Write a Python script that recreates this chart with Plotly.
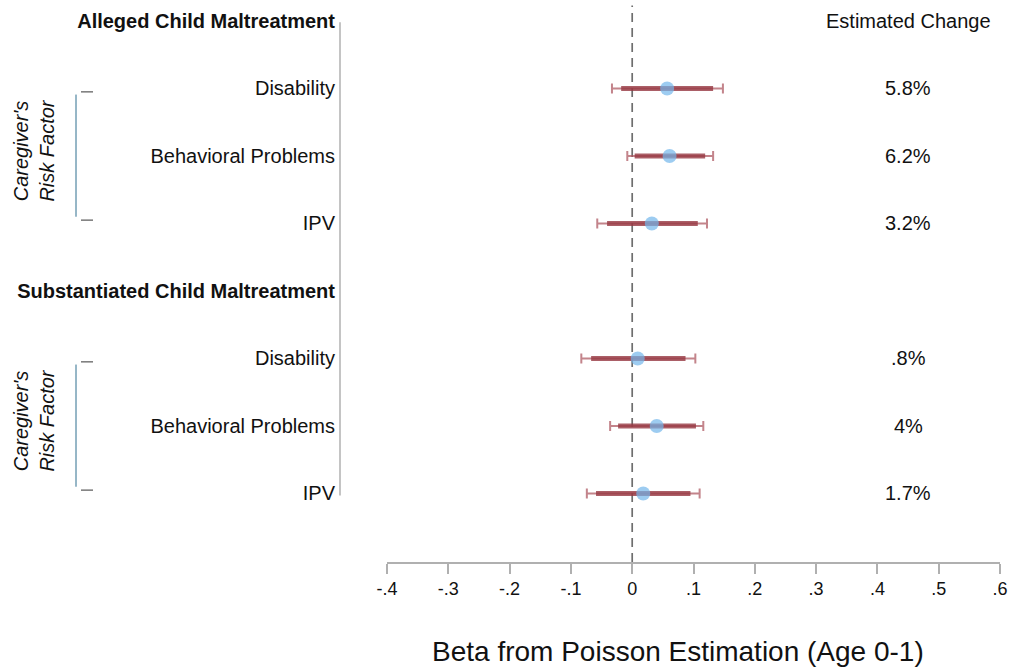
import plotly.graph_objects as go

# ---- data ----
row_labels = ["<b>Alleged Child Maltreatment</b>", "Disability", "Behavioral Problems", "IPV",
              "<b>Substantiated Child Maltreatment</b>", "Disability", "Behavioral Problems", "IPV"]
est_rows = [1, 2, 3, 5, 6, 7]
beta = [0.057, 0.061, 0.032, 0.009, 0.040, 0.018]
lo95 = [-0.033, -0.008, -0.057, -0.083, -0.036, -0.074]
hi95 = [0.148, 0.132, 0.122, 0.103, 0.116, 0.110]
lo90 = [-0.018, 0.004, -0.041, -0.067, -0.023, -0.059]
hi90 = [0.132, 0.119, 0.107, 0.087, 0.104, 0.095]
pct_change = ["5.8%", "6.2%", "3.2%", ".8%", "4%", "1.7%"]
x_tickvals = [-0.4, -0.3, -0.2, -0.1, 0, 0.1, 0.2, 0.3, 0.4, 0.5, 0.6]
x_ticktext = ["-.4", "-.3", "-.2", "-.1", "0", ".1", ".2", ".3", ".4", ".5", ".6"]

FONT = "Liberation Sans, Arial, sans-serif"
W, H = 1012, 667
PW = 1000.0  # paper width in px (margin l=0, r=12)

fig = go.Figure()

# 95% CI thin line with caps
fig.add_trace(go.Scatter(
    x=beta, y=est_rows, mode="markers",
    marker=dict(color="rgba(0,0,0,0)", size=1),
    error_x=dict(type="data", symmetric=False,
                 array=[h - b for h, b in zip(hi95, beta)],
                 arrayminus=[b - l for l, b in zip(lo95, beta)],
                 color="rgba(170,80,90,0.7)", thickness=2, width=5),
    hoverinfo="skip", showlegend=False))
# 90% CI thick bar
fig.add_trace(go.Scatter(
    x=beta, y=est_rows, mode="markers",
    marker=dict(color="rgba(0,0,0,0)", size=1),
    error_x=dict(type="data", symmetric=False,
                 array=[h - b for h, b in zip(hi90, beta)],
                 arrayminus=[b - l for l, b in zip(lo90, beta)],
                 color="rgba(150,55,65,0.8)", thickness=5, width=0),
    hoverinfo="skip", showlegend=False))
# point estimates
fig.add_trace(go.Scatter(
    x=beta, y=est_rows, mode="markers",
    marker=dict(color="rgba(115,182,235,0.7)", size=14, line=dict(width=0)),
    showlegend=False))

shapes = []
# zero dashed line
shapes.append(dict(type="line", xref="x", yref="paper", x0=0, x1=0, y0=0, y1=0.99,
                   line=dict(color="#6e6e6e", width=1.7, dash="9px,6px"), layer="below"))
# left vertical axis line
shapes.append(dict(type="line", xref="paper", yref="y", x0=340 / PW, x1=340 / PW, y0=0.02, y1=7.03,
                   line=dict(color="#b0b0b0", width=1.5)))
# brackets
for r0, r1 in [(1, 3), (5, 7)]:
    shapes.append(dict(type="line", xref="paper", yref="y", x0=76 / PW, x1=76 / PW,
                       y0=r0 + 0.09, y1=r1 - 0.1, line=dict(color="#2f6f8f", width=1)))
    for yy in (r0 + 0.05, r1 - 0.05):
        shapes.append(dict(type="line", xref="paper", yref="y", x0=81 / PW, x1=93 / PW,
                           y0=yy, y1=yy, line=dict(color="#555555", width=1.2)))

annotations = []
annotations.append(dict(x=0.45, y=0, xref="x", yref="y", text="Estimated Change", showarrow=False,
                        font=dict(family=FONT, size=20, color="#111"), xanchor="center", yanchor="middle"))
for r, t in zip(est_rows, pct_change):
    annotations.append(dict(x=0.45, y=r, xref="x", yref="y", text=t, showarrow=False,
                            font=dict(family=FONT, size=20, color="#111"), xanchor="center", yanchor="middle"))
for rc in (2, 6):
    annotations.append(dict(x=34 / PW, y=rc - 0.08, xref="paper", yref="y",
                            text="<i>Caregiver's<br>Risk Factor</i>", textangle=-90, showarrow=False,
                            font=dict(family=FONT, size=20, color="#111"),
                            xanchor="center", yanchor="middle"))
annotations.append(dict(x=678 / PW, y=(562 - 651) / 562.0, xref="paper", yref="paper",
                        text="Beta from Poisson Estimation (Age 0-1)", showarrow=False,
                        font=dict(family=FONT, size=28, color="#111"), xanchor="center", yanchor="middle"))

fig.update_layout(
    width=W, height=H,
    margin=dict(l=0, r=12, t=0, b=105, autoexpand=False),
    paper_bgcolor="white", plot_bgcolor="white",
    font=dict(family=FONT, size=20, color="#111"),
    xaxis=dict(domain=[387 / PW, 1.0], range=[-0.4, 0.6], tickvals=x_tickvals, ticktext=x_ticktext,
               showgrid=False, zeroline=False, showline=True, linecolor="#b0b0b0", linewidth=1.5,
               ticks="outside", ticklen=10, tickwidth=1.5, tickcolor="#b0b0b0", automargin=False,
               tickfont=dict(family=FONT, size=18, color="#111")),
    yaxis=dict(range=[8.015, -0.311], anchor="free", position=335 / PW, showgrid=False, zeroline=False,
               showline=False, tickvals=list(range(8)), ticktext=row_labels, ticks="", automargin=False,
               tickfont=dict(family=FONT, size=20, color="#111")),
    shapes=shapes, annotations=annotations,
)

fig.write_html("out.html")
